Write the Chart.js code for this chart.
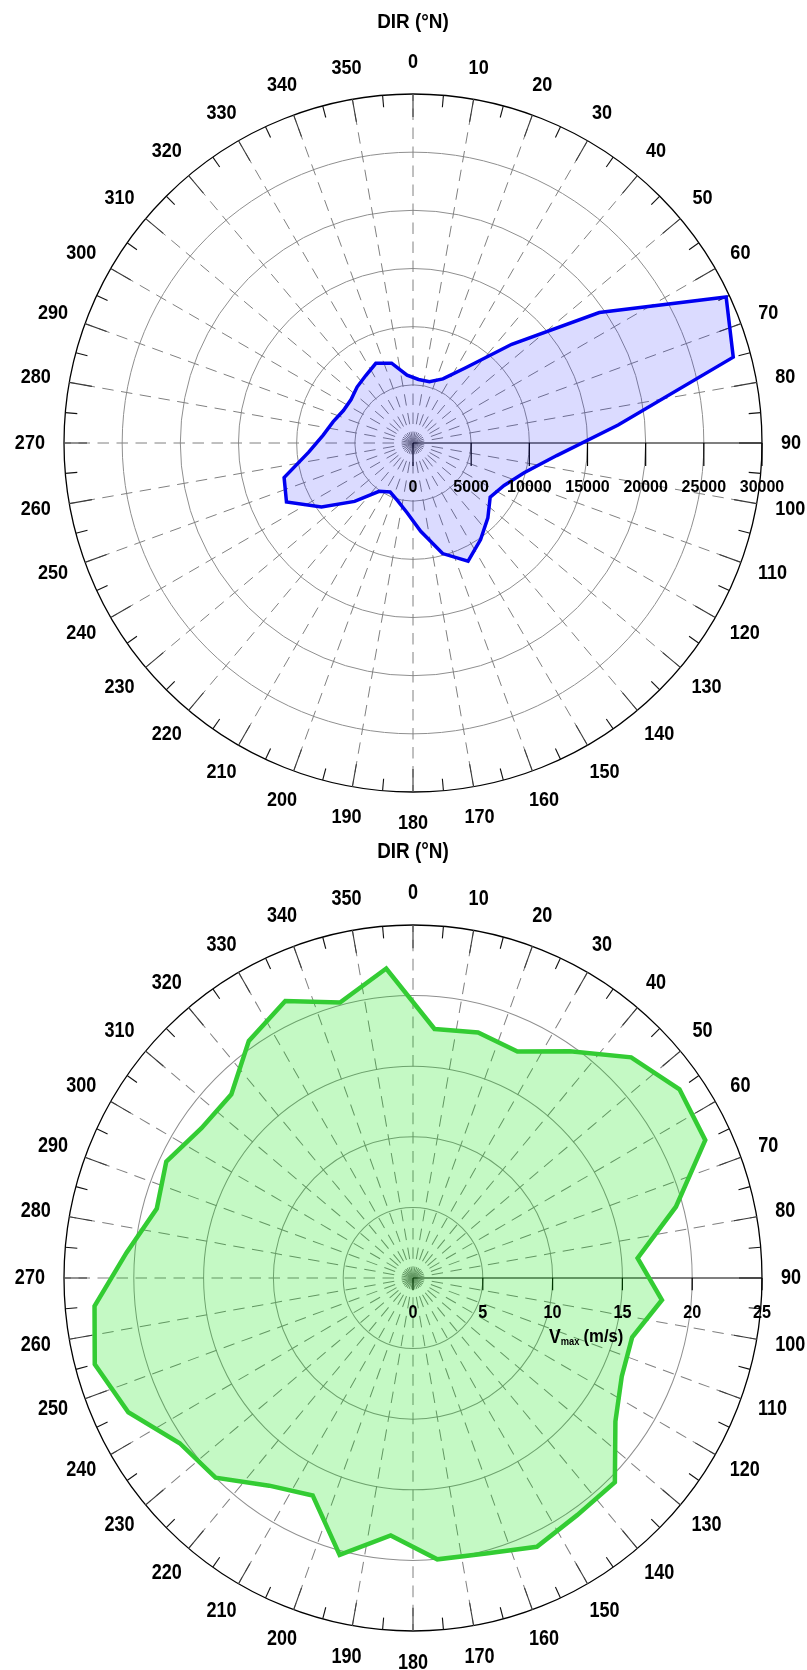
<!DOCTYPE html>
<html>
<head>
<meta charset="utf-8">
<script src="https://cdn.jsdelivr.net/npm/chart.js@4.4.1/dist/chart.umd.min.js"></script>
<style>
  html, body { margin: 0; padding: 0; background: #fff; }
  body { width: 807px; height: 1670px; position: relative; overflow: hidden; }
  canvas { position: absolute; left: 0; }
  #c1 { top: 0; }
  #c2 { top: 835px; }
</style>
</head>
<body>
<canvas id="c1" width="807" height="835"></canvas>
<canvas id="c2" width="807" height="835"></canvas>
<script>
// ---- data ----
const directions = [5,15,25,35,45,55,65,75,85,95,105,115,125,135,145,155,165,175,185,195,205,215,225,235,245,255,265,275,285,295,305,315,325,335,345,355];
const counts = [5480,5450,6080,7900,12000,19550,29700,28500,17700,12400,9890,8640,8100,9100,10130,11200,9840,7620,6000,5130,4650,5070,7100,9600,12000,11470,9000,7750,7100,6600,6500,6800,7080,7560,7100,5850];
const vmax = [17.7,18.0,17.7,19.6,22.1,23.3,23.1,19.5,16.15,17.9,16.25,16.5,17.7,20.45,20.5,21.0,20.2,20.0,18.3,20.3,17.0,17.95,20.0,20.4,22.5,23.6,22.9,20.6,19.0,19.5,18.5,18.4,20.5,21.65,20.2,22.0];
const dirTicks = [0,10,20,30,40,50,60,70,80,90,100,110,120,130,140,150,160,170,180,190,200,210,220,230,240,250,260,270,280,290,300,310,320,330,340,350];
const countTicks = [0,5000,10000,15000,20000,25000,30000];
const vmaxTicks = [0,5,10,15,20,25];
const dirTitle = 'DIR (°N)';

const FONT = '"Liberation Sans", Arial, Helvetica, sans-serif';

function txt(ctx, s, x, y, size, sx, align) {
  ctx.save();
  ctx.font = 'bold ' + size + 'px ' + FONT;
  ctx.translate(x, y);
  ctx.scale(sx, 1);
  ctx.textAlign = align || 'center';
  ctx.textBaseline = 'middle';
  ctx.fillStyle = '#000';
  ctx.fillText(s, 0, 0);
  ctx.restore();
}
function textW(ctx, s, size, sx) {
  ctx.save();
  ctx.font = 'bold ' + size + 'px ' + FONT;
  const w = ctx.measureText(s).width * sx;
  ctx.restore();
  return w;
}

function polarDecor(cfg) {
  return {
    id: 'polarDecor',
    beforeDraw(chart) {
      const s = chart.scales.r, ctx = chart.ctx;
      ctx.save();
      ctx.translate(0, s.yCenter);
      ctx.scale(1, cfg.stretch);
      ctx.translate(0, -s.yCenter);
    },
    beforeDatasetsDraw(chart) {
      const s = chart.scales.r, ctx = chart.ctx;
      const cx = s.xCenter, cy = s.yCenter;
      const R = s.getDistanceFromCenterForValue(s.max);
      // dashed spokes every 10 degrees
      ctx.save();
      ctx.strokeStyle = '#808080';
      ctx.lineWidth = 1;
      ctx.setLineDash([11.5, 7.5]);
      dirTicks.forEach(d => {
        if (d === 90) return;
        const a = (d - 90) * Math.PI / 180;
        ctx.beginPath();
        ctx.moveTo(cx, cy);
        ctx.lineTo(cx + Math.cos(a) * R, cy + Math.sin(a) * R);
        ctx.stroke();
      });
      ctx.restore();
      // ticks on outer circle
      ctx.save();
      dirTicks.forEach(d => {
        [[d, 23, '#3a3a3a'], [d + 5, 12, '#111']].forEach(([dd, len, col]) => {
          const a = (dd - 90) * Math.PI / 180;
          ctx.strokeStyle = col;
          ctx.lineWidth = 1.1;
          ctx.beginPath();
          ctx.moveTo(cx + Math.cos(a) * R, cy + Math.sin(a) * R);
          ctx.lineTo(cx + Math.cos(a) * (R - len), cy + Math.sin(a) * (R - len));
          ctx.stroke();
        });
      });
      ctx.restore();
      // radial axis line (towards 90 deg) and its ticks
      ctx.save();
      ctx.strokeStyle = '#000';
      ctx.lineWidth = 1.2;
      ctx.beginPath();
      ctx.moveTo(cx, cy);
      ctx.lineTo(cx + R, cy);
      ctx.stroke();
      cfg.ticks.forEach(v => {
        const x = cx + s.getDistanceFromCenterForValue(v);
        ctx.beginPath();
        ctx.moveTo(x, cy);
        ctx.lineTo(x, cy + cfg.tickLen);
        ctx.stroke();
      });
      ctx.restore();
    },
    afterDatasetsDraw(chart) {
      const s = chart.scales.r, ctx = chart.ctx;
      const cx = s.xCenter, cy = s.yCenter;
      const r0 = 368;
      // direction labels
      dirTicks.forEach(d => {
        const a = d * Math.PI / 180;
        const w = textW(ctx, String(d), cfg.dirSize, cfg.dirSx);
        const x = cx + Math.sin(a) * (r0 + w / 2);
        const y = cy - Math.cos(a) * (r0 + 12.3);
        txt(ctx, String(d), x, y, cfg.dirSize, cfg.dirSx);
      });
      // title
      txt(ctx, dirTitle, cx, cy - 421, 21, 0.9);
      // radial tick labels
      cfg.ticks.forEach(v => {
        const x = cx + s.getDistanceFromCenterForValue(v);
        txt(ctx, String(v), x, cy + cfg.labelDy, cfg.tickSize, cfg.tickSx);
      });
      if (cfg.axisTitle) {
        const t = cfg.axisTitle;
        let x = t.x;
        txt(ctx, 'V', x, cy + t.dy, 20, 0.88, 'left');
        x += textW(ctx, 'V', 20, 0.88);
        txt(ctx, 'max', x, cy + t.dy + 5, 11, 0.85, 'left');
        x += textW(ctx, 'max', 11, 0.85) + 4;
        txt(ctx, '(m/s)', x, cy + t.dy, 19, 0.88, 'left');
      }
    },
    afterDraw(chart) {
      chart.ctx.restore();
    }
  };
}

function makeChart(id, values, ticks, lineColor, lineWidth, fillColor, cfg) {
  const max = ticks[ticks.length - 1];
  return new Chart(document.getElementById(id), {
    type: 'radar',
    data: {
      labels: directions.map(String),
      datasets: [{
        data: values,
        borderColor: lineColor,
        borderWidth: lineWidth,
        backgroundColor: fillColor,
        fill: 'start',
        pointRadius: 0,
        pointHoverRadius: 0,
        tension: 0,
        borderJoinStyle: 'miter'
      }]
    },
    options: {
      responsive: false,
      animation: false,
      events: [],
      layout: { padding: { left: 64, right: 45, top: 94, bottom: 43 } },
      plugins: { legend: { display: false }, tooltip: { enabled: false } },
      scales: {
        r: {
          min: 0,
          max: max,
          startAngle: 5,
          ticks: { display: false, stepSize: ticks[1] - ticks[0] },
          pointLabels: { display: false },
          angleLines: { display: false },
          grid: {
            circular: true,
            color: c => (c.tick && c.tick.value === max) ? '#000' : '#8f8f8f',
            lineWidth: c => (c.tick && c.tick.value === max) ? 1.3 : 1
          }
        }
      }
    },
    plugins: [polarDecor(Object.assign({ ticks: ticks }, cfg))]
  });
}

makeChart('c1', counts, countTicks, '#0000f0', 3.5, 'rgba(0,0,255,0.14)', {
  stretch: 1.0, tickLen: 23, labelDy: 44.5, tickSize: 16, tickSx: 1.0,
  dirSize: 21, dirSx: 0.86
});
makeChart('c2', vmax, vmaxTicks, '#33cc33', 4.5, 'rgba(0,230,0,0.23)', {
  stretch: 1.0115, tickLen: 12, labelDy: 34.6, tickSize: 18, tickSx: 0.9,
  dirSize: 21, dirSx: 0.86,
  axisTitle: { x: 549, dy: 58.5 }
});
</script>
</body>
</html>
